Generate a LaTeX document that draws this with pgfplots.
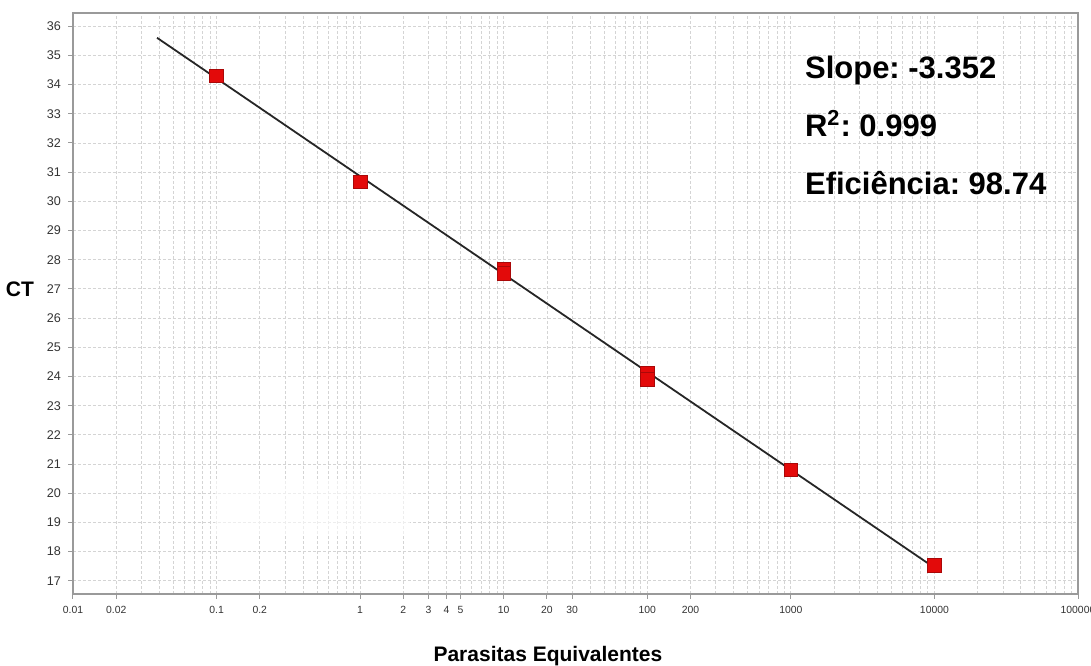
\documentclass[border=0pt]{standalone}
\usepackage{fontspec}
\setmainfont{Liberation Sans}
\usepackage{pgfplots}
\pgfplotsset{compat=1.18}
\usetikzlibrary{calc}
\definecolor{gridgray}{HTML}{D4D4D4}
\definecolor{axgray}{HTML}{9A9A9A}
\definecolor{ptred}{HTML}{E30A0A}
\definecolor{ticktxt}{HTML}{333333}
\frenchspacing

\begin{document}
\begin{tikzpicture}
\begin{axis}[
  name=ax,
  scale only axis, width=502.5pt, height=290.5pt,
  xmode=log, log basis x=10,
  xmin=0.01, xmax=100000,
  ymin=16.55, ymax=36.45,
  ytick={17,18,...,36},
  xtick={0.01,0.02,0.1,0.2,1,2,3,4,5,10,20,30,100,200,1000,10000,100000},
  xticklabels={0.01,0.02,0.1,0.2,1,2,3,4,5,10,20,30,100,200,1000,10000,100000},
  minor xtick={0.03,0.04,0.05,0.06,0.07,0.08,0.09,
    0.3,0.4,0.5,0.6,0.7,0.8,0.9,
    6,7,8,9,
    40,50,60,70,80,90,
    300,400,500,600,700,800,900,
    2000,3000,4000,5000,6000,7000,8000,9000,
    20000,30000,40000,50000,60000,70000,80000,90000},
  grid=both,
  major grid style={gridgray, dash pattern=on 1.5pt off 1pt, line width=0.4pt},
  minor grid style={gridgray, dash pattern=on 1.5pt off 1pt, line width=0.4pt},
  axis line style={axgray, line width=0.6pt},
  tick style={axgray, line width=0.5pt},
  tick align=outside, tick pos=left,
  major tick length=2.5pt, minor tick length=0pt,
  /pgf/number format/assume math mode=true,
  xticklabel style={font=\fontsize{5.2}{6}\selectfont, text=ticktxt},
  yticklabel style={font=\fontsize{6.3}{7}\selectfont, text=ticktxt},
  clip=false,
]
% faded blank box left over in the original
\fill[white, opacity=0.6] (rel axis cs:0.141,0.1015) rectangle (rel axis cs:0.335,0.196);

\addplot[black!85, line width=0.9pt] coordinates {(0.0385,35.60) (10000,17.45)};

\addplot[only marks, mark=square*, mark size=3.4pt,
  mark options={fill=ptred, draw=ptred!75!black, line width=0.4pt}] coordinates {
  (0.1,34.30) (1,30.66) (10,27.68) (10,27.54)
  (100,24.11) (100,23.91) (1000,20.80) (10000,17.53)
};

\node[anchor=base west, font=\bfseries\fontsize{15.5}{18}\selectfont] at (rel axis cs:0.7214,0.888) {Slope: -3.352};
\node[anchor=base west, font=\bfseries\fontsize{15.5}{18}\selectfont] at (rel axis cs:0.7214,0.788) {R\textsuperscript{2}: 0.999};
\node[anchor=base west, font=\bfseries\fontsize{15.5}{18}\selectfont] at (rel axis cs:0.7214,0.687) {Eficiência: 98.74};

\node[anchor=east, xshift=-16pt, font=\bfseries\fontsize{10.5}{12}\selectfont] at (rel axis cs:0,0.525) {CT};
\node[anchor=base, yshift=-34pt, font=\bfseries\fontsize{10.5}{12}\selectfont] at (rel axis cs:0.4726,0) {Parasitas Equivalentes};
\end{axis}
\pgfresetboundingbox
\path[use as bounding box] ($(ax.south west)+(-36.5pt,-36pt)$) rectangle ($(ax.north east)+(6.5pt,6.5pt)$);
\end{tikzpicture}
\end{document}
